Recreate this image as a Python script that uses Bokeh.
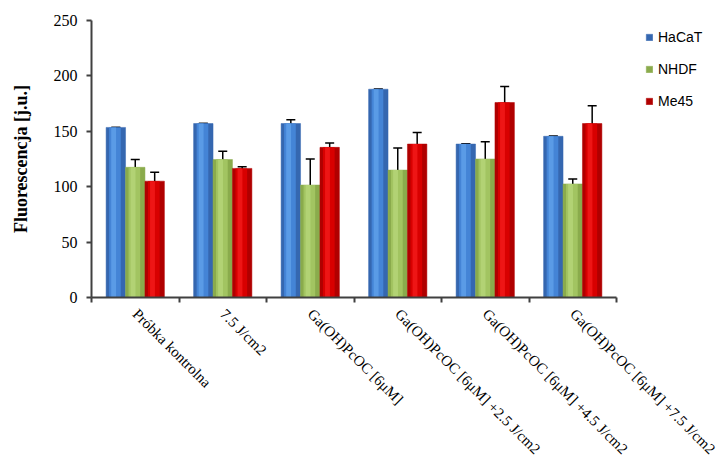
import math
from bokeh.plotting import figure
from bokeh.models import (ColumnDataSource, Range1d, LinearAxis,
                          FixedTicker, CustomJSTickFormatter, Whisker, TeeHead, Legend, LegendItem)
from bokeh.embed import file_html
from bokeh.resources import INLINE

categories = ["Próbka kontrolna", "7.5 J/cm2", "Ga(OH)PcOC [6μM]",
              "Ga(OH)PcOC [6μM] +2.5 J/cm2", "Ga(OH)PcOC [6μM] +4.5 J/cm2",
              "Ga(OH)PcOC [6μM] +7.5 J/cm2"]
series = ["HaCaT", "NHDF", "Me45"]
hacat = [153.5, 157, 157, 188, 138.5, 145.5]
hacat_err = [0, 0, 3.5, 0, 0, 0]
nhdf = [117.5, 124.5, 101.5, 115, 125, 102.5]
nhdf_err = [7, 7.5, 23.5, 20, 15.5, 4.5]
me45 = [105, 116.5, 135.5, 138.5, 176, 157]
me45_err = [8, 1.5, 4, 10.5, 14.5, 16]
y_ticks = [0, 50, 100, 150, 200, 250]

colors_dark = ["#3567b0", "#8aab4c", "#b00000"]
colors_main = ["#4484d6", "#a2c461", "#d80000"]
colors_light = ["#5a9be6", "#b2d274", "#ee1515"]

n = len(categories)
centers = [i + 0.5 for i in range(n)]
bounds = list(range(n + 1))

W, H = 718, 465
left, top, axis_right, bottom = 91, 20, 616, 298
frame_right = 712
x_end = n * (frame_right - left) / (axis_right - left)

p = figure(width=W, height=H, output_backend="svg", toolbar_location=None,
           x_range=Range1d(0, x_end), y_range=Range1d(0, 250), x_axis_location=None,
           min_border_left=left, min_border_right=W - frame_right, min_border_top=top,
           min_border_bottom=H - bottom)
p.outline_line_color = None
p.xgrid.visible = False
p.ygrid.visible = False
p.background_fill_color = "white"
p.border_fill_color = "white"

bax = LinearAxis(ticker=FixedTicker(ticks=bounds), bounds=(0, n),
                 formatter=CustomJSTickFormatter(code="return ''"))
bax.axis_line_color = "#404040"
bax.axis_line_width = 2
bax.major_tick_line_color = "#404040"
bax.major_tick_line_width = 2
bax.major_tick_out = 5
bax.major_tick_in = 0
bax.minor_tick_line_color = None
bax.major_label_standoff = 0
bax.major_label_text_font_size = "1px"
p.add_layout(bax, "below")

cax = LinearAxis(ticker=FixedTicker(ticks=centers), bounds=(0, n),
                 formatter=CustomJSTickFormatter(args=dict(labels=categories),
                                                 code="return labels[Math.floor(tick)]"))
cax.axis_line_color = None
cax.major_tick_line_color = None
cax.minor_tick_line_color = None
cax.major_label_orientation = -math.pi / 4
cax.major_label_text_font = "Liberation Serif"
cax.major_label_text_font_size = "15px"
cax.major_label_text_color = "black"
cax.major_label_standoff = 3
p.add_layout(cax, "below")

ya = p.yaxis[0]
ya.ticker = FixedTicker(ticks=y_ticks)
ya.axis_line_color = "#404040"
ya.axis_line_width = 2
ya.major_tick_line_color = "#404040"
ya.major_tick_line_width = 2
ya.major_tick_out = 5
ya.major_tick_in = 0
ya.minor_tick_line_color = None
ya.major_label_text_font = "Liberation Serif"
ya.major_label_text_font_size = "16px"
ya.major_label_text_color = "black"
ya.major_label_standoff = 9
ya.axis_label = "Fluorescencja [j.u.]"
ya.axis_label_text_font = "Liberation Serif"
ya.axis_label_text_font_size = "18px"
ya.axis_label_text_font_style = "bold"
ya.axis_label_text_color = "black"
ya.axis_label_standoff = 20

vals = [hacat, nhdf, me45]
errs = [hacat_err, nhdf_err, me45_err]
offsets = [-0.222, 0.0, 0.222]
bw = 0.222
items = []
for i in range(3):
    src = ColumnDataSource(dict(x=[c + offsets[i] for c in centers],
                                x2=[c + offsets[i] - 0.01 for c in centers],
                                x3=[c + offsets[i] - 0.025 for c in centers],
                                v=vals[i],
                                up=[a + b for a, b in zip(vals[i], errs[i])],
                                lo=[a - b for a, b in zip(vals[i], errs[i])]))
    r = p.vbar(x="x", top="v", width=bw, source=src, fill_color=colors_dark[i],
               line_color=colors_dark[i], line_width=0.5)
    p.vbar(x="x2", top="v", width=bw * 0.6, source=src, fill_color=colors_main[i], line_color=None)
    p.vbar(x="x3", top="v", width=bw * 0.25, source=src, fill_color=colors_light[i], line_color=None)
    w = Whisker(base="x", upper="up", lower="lo", source=src, line_color="black", line_width=1.5,
                upper_head=TeeHead(size=9, line_color="black", line_width=1.5),
                lower_head=TeeHead(size=9, line_color="black", line_width=1.5))
    p.add_layout(w)
    items.append(LegendItem(label=series[i], renderers=[r]))

legend = Legend(items=items, location=(554, 186), orientation="vertical",
                glyph_width=8, glyph_height=8, label_height=20, spacing=12,
                label_standoff=5, padding=0, margin=0,
                label_text_font="Liberation Sans", label_text_font_size="14px",
                label_text_color="black", border_line_color=None,
                background_fill_alpha=0)
p.add_layout(legend, "center")

open("out.html", "w").write(file_html(p, INLINE))
